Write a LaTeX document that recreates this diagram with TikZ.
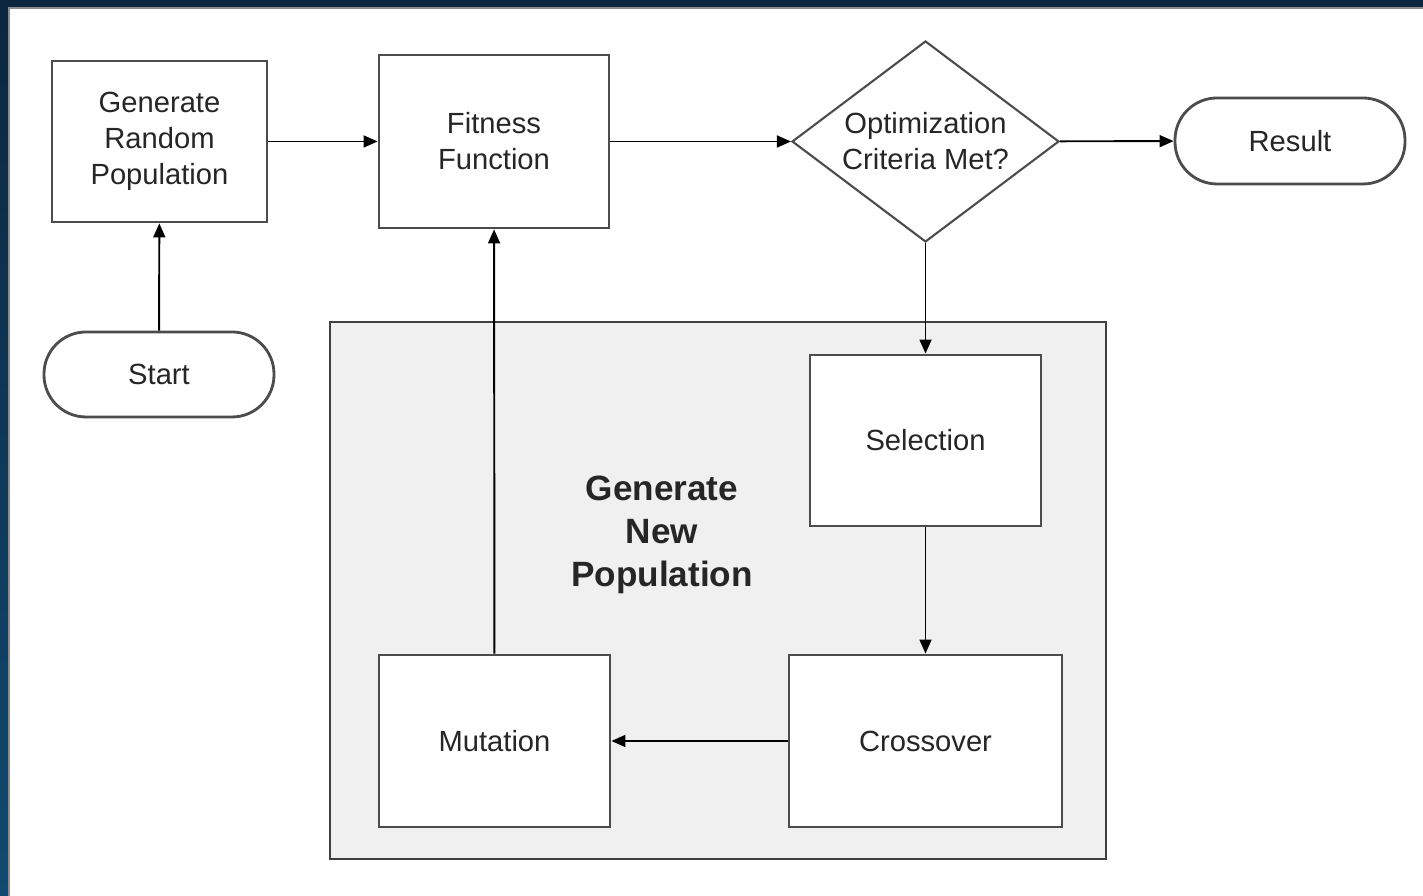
\documentclass[tikz,border=0pt]{standalone}
\usepackage{fontspec}
\setmainfont{Liberation Sans}
\usepackage{tikz}
\usetikzlibrary{positioning, arrows.meta, shapes.geometric}
\definecolor{Frameblue}{RGB}{12,38,64}
\definecolor{Frameblue2}{RGB}{16,74,112}
\definecolor{Panelgray}{RGB}{240,240,240}

\begin{document}
\begin{tikzpicture}[
  %% estilos de los bloques
  pbox/.style={rectangle, draw=black!70, fill=white, line width=0.8pt,
               align=center, inner sep=2pt, text=black!85,
               font=\fontsize{8.3}{10.2}\selectfont},
  term/.style={rectangle, rounded corners=0.42cm, draw=black!70, fill=white,
               line width=0.8pt, align=center, inner sep=2pt, text=black!85,
               font=\fontsize{8.3}{10.2}\selectfont},
  dec/.style={diamond, draw=black!70, fill=white, line width=0.6pt,
              align=center, inner sep=0pt, aspect=1.33, text=black!85,
              font=\fontsize{8.3}{10.2}\selectfont},
  panel/.style={rectangle, draw=black!75, fill=Panelgray, line width=0.8pt},
  ptitle/.style={align=center, text=black!85,
                 font=\fontsize{10}{12.2}\selectfont\bfseries},
  arr/.style={-{Triangle[length=4pt, width=3.4pt]}, line width=0.55pt, color=black}
]

%% -- Marco y fondo --------------------------------------------------------
\useasboundingbox (0,0) rectangle (14.23,8.96);
\fill[white] (0,0) rectangle (14.23,8.96);
\fill[Frameblue] (0,8.89) rectangle (14.23,8.96);
\shade[top color=Frameblue, bottom color=Frameblue2] (0,0) rectangle (0.08,8.96);
\draw[black!45, line width=0.6pt] (0.09,0) -- (0.09,8.88) -- (14.23,8.88);

%% -- Panel de nueva poblacion ---------------------------------------------
\node[panel, minimum width=7.76cm, minimum height=5.37cm] (panel) at (7.18,3.055) {};
\node[ptitle] (gnp) at (6.62,3.61) {Generate\\New\\Population};

%% -- Fila superior --------------------------------------------------------
\node[pbox, minimum width=2.15cm, minimum height=1.61cm] (genpop) at (1.595,7.545)
  {Generate\\Random\\Population};
\node[term, minimum width=2.30cm, minimum height=0.85cm] (start) at (1.59,5.215) {Start};
\node[pbox, minimum width=2.30cm, minimum height=1.73cm] (fitness) at (4.94,7.545)
  {Fitness\\Function};
\node[dec, minimum width=2.67cm, minimum height=2.01cm] (crit) at (9.255,7.545)
  {Optimization\\Criteria Met?};
\node[term, minimum width=2.30cm, minimum height=0.86cm] (result) at (12.90,7.55) {Result};

%% -- Operadores -----------------------------------------------------------
\node[pbox, minimum width=2.31cm, minimum height=1.71cm] (select) at (9.255,4.555) {Selection};
\node[pbox, minimum width=2.73cm, minimum height=1.72cm] (cross) at (9.255,1.55) {Crossover};
\node[pbox, minimum width=2.31cm, minimum height=1.72cm] (mutate) at (4.945,1.55) {Mutation};

%% -- Flechas --------------------------------------------------------------
\draw[arr] (start)   -- (genpop);
\draw[arr] (genpop)  -- (fitness);
\draw[arr] (fitness) -- (crit);
\draw[arr] (crit)    -- (result);
\draw[arr] (crit)    -- (select);
\draw[arr] (select)  -- (cross);
\draw[arr] (cross)   -- (mutate);
\draw[arr] (mutate)  -- (fitness);

\end{tikzpicture}
\end{document}
